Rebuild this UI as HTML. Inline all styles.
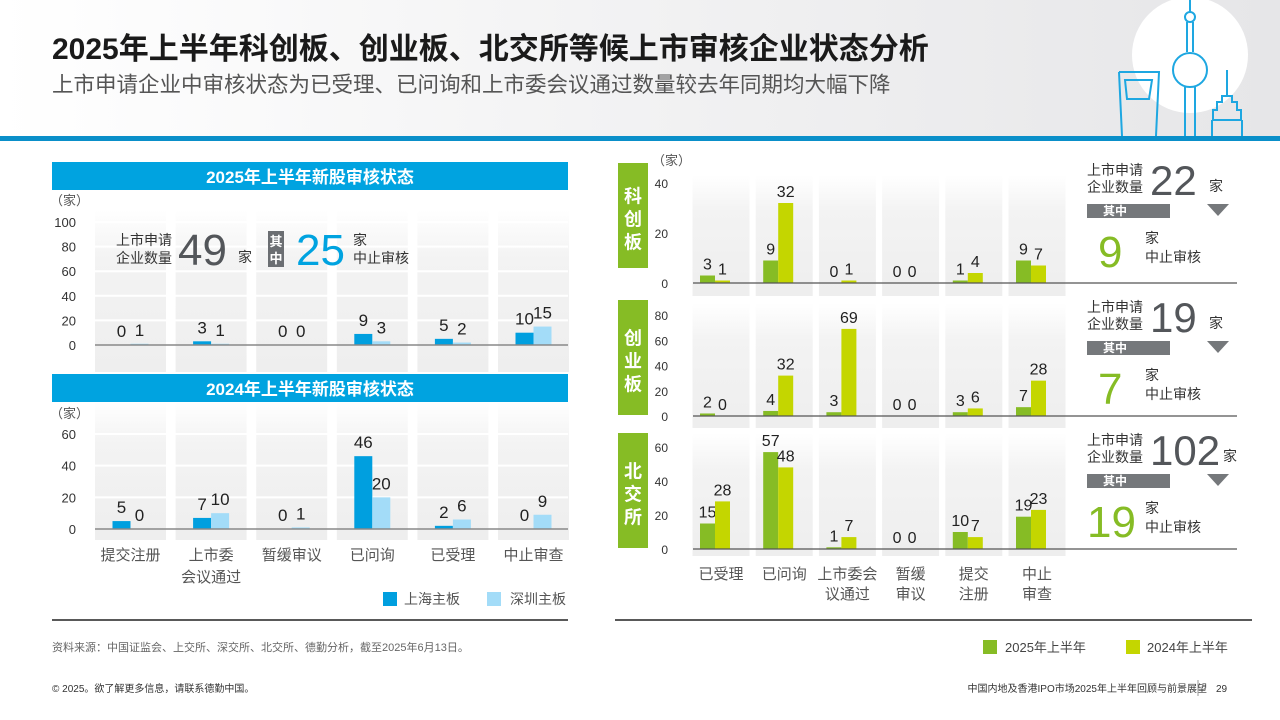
<!DOCTYPE html>
<html><head><meta charset="utf-8">
<style>
body{margin:0;width:1280px;height:720px;overflow:hidden;background:#fff;font-family:"Liberation Sans","Noto Sans CJK SC",sans-serif;}
svg{display:block}
text{font-family:"Liberation Sans","Noto Sans CJK SC",sans-serif;}
</style></head>
<body>
<svg id="s" width="1280" height="720" viewBox="0 0 1280 720">
<defs>
<linearGradient id="hdr" x1="0" x2="1" y1="0" y2="0"><stop offset="0" stop-color="#fff"/><stop offset="0.45" stop-color="#f3f3f4"/><stop offset="1" stop-color="#e6e6e8"/></linearGradient>
<linearGradient id="col" x1="0" x2="0" y1="0" y2="1"><stop offset="0" stop-color="#fff"/><stop offset="0.3" stop-color="#f3f3f3"/><stop offset="1" stop-color="#eeeeee"/></linearGradient>
</defs>
<rect x="0" y="0" width="1280" height="136" fill="url(#hdr)"/>
<circle cx="1190" cy="55" r="58" fill="#fff"/>
<g fill="none" stroke="#1ea7e1" stroke-width="2">
<line x1="1190" y1="0" x2="1190" y2="12"/><circle cx="1190" cy="17" r="5"/>
<line x1="1187" y1="22" x2="1187" y2="52"/><line x1="1193" y1="22" x2="1193" y2="52"/>
<circle cx="1190" cy="70" r="17"/>
<line x1="1185" y1="87" x2="1185" y2="136"/><line x1="1195" y1="87" x2="1195" y2="136"/>
<path d="M1119 72 L1159 72 L1156 136 M1119 72 L1122 136 M1125 80 L1152 80 L1149 99 L1127 99 Z"/>
<path d="M1227 70 L1227 96 M1222 96 L1232 96 L1232 102 L1237 102 L1237 110 L1241 110 L1241 120 L1213 120 L1213 110 L1217 110 L1217 102 L1222 102 Z M1212 120 L1212 136 M1242 120 L1242 136"/>
</g>
<rect x="0" y="136" width="1280" height="5" fill="#0a8fc9"/>
<text x="52" y="59" font-size="30" font-weight="bold" fill="#1a1a1a">2025年上半年科创板、创业板、北交所等候上市审核企业状态分析</text>
<text x="52" y="92" font-size="21.5" fill="#555">上市申请企业中审核状态为已受理、已问询和上市委会议通过数量较去年同期均大幅下降</text>

<rect x="52" y="162" width="516" height="28" fill="#00a3e0"/>
<text x="310" y="183" font-size="17" font-weight="bold" fill="#fff" text-anchor="middle">2025年上半年新股审核状态</text>
<rect x="52" y="374" width="516" height="28" fill="#00a3e0"/>
<text x="310" y="395" font-size="17" font-weight="bold" fill="#fff" text-anchor="middle">2024年上半年新股审核状态</text>

<g id="left"></g>
<g id="right"></g>

<text x="116" y="245" font-size="14" fill="#333">上市申请</text>
<text x="116" y="263" font-size="14" fill="#333">企业数量</text>
<text x="178" y="265" font-size="44" fill="#53565a">49</text>
<text x="238" y="262" font-size="14" fill="#333">家</text>
<rect x="268" y="231" width="16" height="36" fill="#6b6e72"/>
<text x="276" y="246" font-size="13" font-weight="bold" fill="#fff" text-anchor="middle">其</text>
<text x="276" y="263" font-size="13" font-weight="bold" fill="#fff" text-anchor="middle">中</text>
<text x="296" y="265" font-size="44" fill="#00a3e0">25</text>
<text x="353" y="245" font-size="14" fill="#333">家</text>
<text x="353" y="263" font-size="14" fill="#333">中止审核</text>

<rect x="383" y="592" width="14" height="14" fill="#009fdf"/>
<text x="404" y="604" font-size="14" fill="#555">上海主板</text>
<rect x="487" y="592" width="14" height="14" fill="#a3dcf8"/>
<text x="510" y="604" font-size="14" fill="#555">深圳主板</text>
<line x1="52" y1="620" x2="568" y2="620" stroke="#222" stroke-width="1.5"/>
<line x1="615" y1="620" x2="1252" y2="620" stroke="#222" stroke-width="1.5"/>

<rect x="983" y="640" width="14" height="14" fill="#86bc25"/>
<text x="1005" y="652" font-size="13" fill="#444">2025年上半年</text>
<rect x="1126" y="640" width="14" height="14" fill="#c4d600"/>
<text x="1147" y="652" font-size="13" fill="#444">2024年上半年</text>

<text x="52" y="651" font-size="11" fill="#666">资料来源：中国证监会、上交所、深交所、北交所、德勤分析，截至2025年6月13日。</text>
<text x="52" y="692" font-size="10" fill="#333">© 2025。欲了解更多信息，请联系德勤中国。</text>
<text x="1207" y="692" font-size="10" fill="#333" text-anchor="end">中国内地及香港IPO市场2025年上半年回顾与前景展望</text>
<line x1="1198" y1="680" x2="1198" y2="696" stroke="#999"/>
<text x="1216" y="692" font-size="10" fill="#333">29</text>
</svg>
<script>
const leftCats=['提交注册','上市委|会议通过','暂缓审议','已问询','已受理','中止审查'];
const sh2025=[0,3,0,9,5,10];
const sz2025=[1,1,0,3,2,15];
const sh2024=[5,7,0,46,2,0];
const sz2024=[0,10,1,20,6,9];
const ticks2025=[0,20,40,60,80,100];
const ticks2024=[0,20,40,60];
const rightCats=['已受理','已问询','上市委会|议通过','暂缓|审议','提交|注册','中止|审查'];
const kcb2025=[3,9,0,0,1,9];
const kcb2024=[1,32,1,0,4,7];
const cyb2025=[2,4,3,0,3,7];
const cyb2024=[0,32,69,0,6,28];
const bjs2025=[15,57,1,0,10,19];
const bjs2024=[28,48,7,0,7,23];
const ticksKcb=[0,20,40];
const ticksCyb=[0,20,40,60,80];
const ticksBjs=[0,20,40,60];
const boardNames=['科创板','创业板','北交所'];
const boardTotals=[22,19,102];
const boardSuspended=[9,7,19];

const NS='http://www.w3.org/2000/svg';
function mk(tag,attrs,parent,txt){const e=document.createElementNS(NS,tag);for(const k in attrs)e.setAttribute(k,attrs[k]);if(txt!==undefined)e.textContent=txt;parent.appendChild(e);return e;}

const L=document.getElementById('left');
function leftChart(a,b,ticks,y0,maxV,yTopV,colTop,colBot,unitY,tag){
  const sc=v=>y0-v/maxV*(y0-yTopV);
  const cx=i=>95+35.5+i*80.6;
  for(let i=0;i<6;i++){
    const r=mk('rect',{x:cx(i)-35.5,y:colTop,width:71,height:colBot-colTop,fill:'url(#col)'},L);
    
    
  }
  ticks.forEach(t=>{
    if(t>0){const g=mk('line',{x1:95,x2:568,y1:sc(t),y2:sc(t),stroke:'#fff','stroke-width':2},L);
    
    }
    const tx=mk('text',{x:76,y:sc(t)+5,'font-size':13,fill:'#333','text-anchor':'end'},L,t);
    
    
  });
  const u=mk('text',{x:50,y:unitY,'font-size':13,fill:'#555'},L,'（家）');
  
  
  for(let i=0;i<6;i++){
    [[a,'#009fdf',-18,'sh'],[b,'#a3dcf8',0,'sz']].forEach(([arr,c,off,n])=>{
      const v=arr[i];const h=Math.max(y0-sc(v),v===0?0:1);
      const r=mk('rect',{x:cx(i)+off,y:y0-h,width:18,height:h,fill:c},L);
      
      
      const t=mk('text',{x:cx(i)+off+9,y:y0-h-8,'font-size':17,fill:'#222','text-anchor':'middle'},L,v);
      
      
    });
  }
  const ax=mk('line',{x1:95,x2:568,y1:y0,y2:y0,stroke:'#888','stroke-width':1.5},L);
  
  
  return cx;
}
leftChart(sh2025,sz2025,ticks2025,345,100,222,210,372,205,'chart2025');
const cxL=leftChart(sh2024,sz2024,ticks2024,529,60,434,402,540,418,'chart2024');
leftCats.forEach((c,i)=>{c.split('|').forEach((p,j)=>{
  const t=mk('text',{x:cxL(i),y:560+j*22,'font-size':15,fill:'#555','text-anchor':'middle'},L,p);
  
  
});});

const R=document.getElementById('right');
const panels=[
 {a:kcb2025,b:kcb2024,ticks:ticksKcb,y0:283,max:40,ytop:183,top:175,bot:296,box:[163,268]},
 {a:cyb2025,b:cyb2024,ticks:ticksCyb,y0:416,max:80,ytop:315,top:303,bot:428,box:[300,415]},
 {a:bjs2025,b:bjs2024,ticks:ticksBjs,y0:549,max:60,ytop:447,top:433,bot:556,box:[433,548]}
];
const cxR=i=>721+i*63.2;
const u2=mk('text',{x:652,y:165,'font-size':13,fill:'#555'},R,'（家）');


panels.forEach((p,k)=>{
  const sc=v=>p.y0-v/p.max*(p.y0-p.ytop);
  const bx=mk('rect',{x:618,y:p.box[0],width:30,height:p.box[1]-p.box[0],fill:'#86bc25'},R);
  
  
  const n=boardNames[k];const mid=(p.box[0]+p.box[1])/2;
  for(let j=0;j<3;j++){
    const t=mk('text',{x:633,y:mid-20+j*23+7,'font-size':18,'font-weight':'bold',fill:'#fff','text-anchor':'middle'},R,n[j]);
    
    
  }
  for(let i=0;i<6;i++){
    const r=mk('rect',{x:cxR(i)-28.5,y:p.top,width:57,height:p.bot-p.top,fill:'url(#col)'},R);
    
    
  }
  p.ticks.forEach(t=>{
    const tx=mk('text',{x:668,y:sc(t)+5,'font-size':12,fill:'#333','text-anchor':'end'},R,t);
    
    
  });
  for(let i=0;i<6;i++){
    [[p.a,'#86bc25',-15],[p.b,'#c4d600',0]].forEach(([arr,c,off])=>{
      const v=arr[i];const h=Math.max(p.y0-sc(v),v===0?0:1.5);
      const r=mk('rect',{x:cxR(i)-6+off,y:p.y0-h,width:15,height:h,fill:c},R);
      
      
      const t=mk('text',{x:cxR(i)-6+off+7.5,y:p.y0-h-6,'font-size':16,fill:'#222','text-anchor':'middle'},R,v);
      
      
    });
  }
  const ax=mk('line',{x1:693,x2:1237,y1:p.y0,y2:p.y0,stroke:'#555','stroke-width':1.2},R);
  
  
  const sy=p.box[0];
  const l1=mk('text',{x:1087,y:sy+12,'font-size':14,fill:'#333'},R,'上市申请');
  
  
  const l2=mk('text',{x:1087,y:sy+29,'font-size':14,fill:'#333'},R,'企业数量');
  
  
  const big=mk('text',{x:1150,y:sy+32,'font-size':42,fill:'#53565a'},R,boardTotals[k]);
  
  
  const uu=mk('text',{x:boardTotals[k]>99?1223:1209,y:sy+28,'font-size':14,fill:'#333'},R,'家');
  
  
  const bar=mk('rect',{x:1087,y:sy+41,width:83,height:14,fill:'#75787b'},R);
  
  
  const qz=mk('text',{x:1115,y:sy+52,'font-size':12,'font-weight':'bold',fill:'#fff','text-anchor':'middle'},R,'其中');
  
  
  const tri=mk('path',{d:`M1207 ${sy+41} L1229 ${sy+41} L1218 ${sy+53} Z`,fill:'#75787b'},R);
  
  
  const sus=mk('text',{x:boardSuspended[k]>9?1087:1098,y:sy+104,'font-size':44,fill:'#86bc25'},R,boardSuspended[k]);
  
  
  const s1=mk('text',{x:1145,y:sy+80,'font-size':14,fill:'#333'},R,'家');
  
  
  const s2=mk('text',{x:1145,y:sy+99,'font-size':14,fill:'#333'},R,'中止审核');
  
  
});
rightCats.forEach((c,i)=>{c.split('|').forEach((p,j)=>{
  const t=mk('text',{x:cxR(i),y:579+j*20,'font-size':15,fill:'#555','text-anchor':'middle'},R,p);
  
  
});});
</script>
</body></html>
